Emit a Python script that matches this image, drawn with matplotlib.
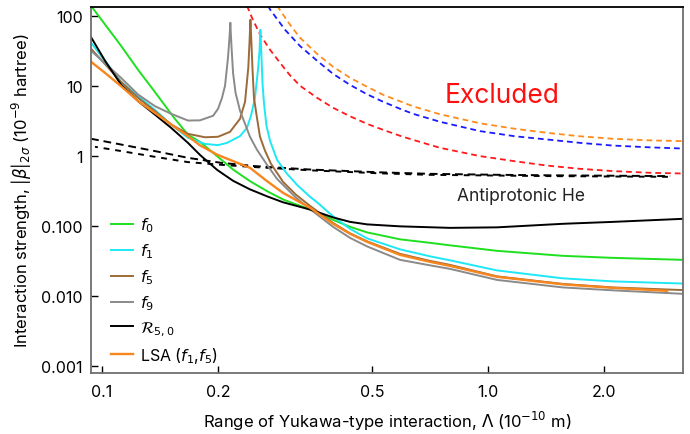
import matplotlib
matplotlib.use('Agg')
import matplotlib.pyplot as plt

plt.rcParams['font.family'] = ['Inter', 'DejaVu Sans']
plt.rcParams['mathtext.fontset'] = 'dejavusans'

# values (Lambda in 1e-10 m, |beta| in 1e-9 hartree)
f0_x = [0.0937, 0.112, 0.124, 0.137, 0.1537, 0.167, 0.1794, 0.1986, 0.2185, 0.2417, 0.2676,
        0.2944, 0.3458, 0.3967, 0.439, 0.4859, 0.5916, 0.7075, 0.797, 1.055, 1.564, 2.108, 3.2]
f0_y = [138, 37.3, 16.9, 8.2, 3.49, 2.0, 1.585, 0.99, 0.637, 0.435, 0.313,
        0.238, 0.171, 0.122, 0.0968, 0.0807, 0.0642, 0.0572, 0.0527, 0.044, 0.0373, 0.0349, 0.0327]

f1_x = [0.0937, 0.112, 0.124, 0.137, 0.151, 0.167, 0.1848, 0.1998, 0.2108, 0.2278, 0.2374,
        0.2432, 0.2490, 0.2535, 0.2559, 0.2572, 0.2588, 0.2604, 0.2627, 0.2667, 0.2724,
        0.2840, 0.3015, 0.3200, 0.3458, 0.3606, 0.3967, 0.439, 0.4859, 0.5916, 0.7075,
        0.797, 1.055, 1.564, 2.108, 3.2]
f1_y = [41.1, 11.4, 7.13, 4.54, 2.80, 1.81, 1.48, 1.42, 1.53, 1.91, 2.51,
        3.73, 6.74, 16.9, 31.0, 63.0, 27.0, 11.0, 5.72, 2.68, 1.64,
        0.877, 0.553, 0.385, 0.26, 0.217, 0.137, 0.0906, 0.0663, 0.0462, 0.0367,
        0.0322, 0.0231, 0.0178, 0.0161, 0.0150]

f5_x = [0.0937, 0.112, 0.124, 0.137, 0.151, 0.167, 0.1848, 0.1998, 0.2146, 0.2278, 0.2347,
        0.2393, 0.2410, 0.2424, 0.2438, 0.2453, 0.2475, 0.2520, 0.2566, 0.2644, 0.2740,
        0.2944, 0.3183, 0.3458, 0.3967, 0.439, 0.4859, 0.5916, 0.7075, 0.797, 1.055,
        1.564, 2.108, 3.2]
f5_y = [33.8, 11.4, 6.74, 4.35, 2.80, 2.06, 1.84, 1.87, 2.20, 3.38, 5.91,
        18.1, 41.1, 87.7, 41.1, 18.1, 6.74, 3.49, 1.87, 1.18, 0.768,
        0.425, 0.277, 0.193, 0.110, 0.0781, 0.0601, 0.0398, 0.0316, 0.0277, 0.019,
        0.0148, 0.0132, 0.0121]

f9_x = [0.0937, 0.112, 0.124, 0.137, 0.151, 0.167, 0.1794, 0.1940, 0.1998, 0.2046, 0.2083,
        0.2120, 0.2139, 0.2150, 0.2159, 0.2166, 0.2185, 0.2218, 0.2278, 0.2347, 0.2417,
        0.2520, 0.2676, 0.2840, 0.2944, 0.3183, 0.3398, 0.3967, 0.439, 0.4859, 0.5916,
        0.7075, 0.797, 1.055, 1.564, 2.108, 3.2]
f9_y = [31.6, 13.0, 7.51, 5.13, 3.98, 3.19, 3.21, 3.73, 4.69, 6.74, 10.0,
        25.1, 48.5, 79.4, 48.5, 34.9, 15.3, 7.94, 4.39, 2.86, 1.87,
        1.22, 0.744, 0.469, 0.385, 0.251, 0.187, 0.0968, 0.0674, 0.0509, 0.0327,
        0.0273, 0.0243, 0.0169, 0.0132, 0.0120, 0.0107]

r50_x = [0.0937, 0.1018, 0.112, 0.124, 0.137, 0.151, 0.167, 0.1794, 0.1986, 0.2185, 0.2417,
         0.2676, 0.2944, 0.3458, 0.3967, 0.439, 0.4859, 0.5916, 0.797, 1.055, 1.564, 2.108, 3.2]
r50_y = [49.3, 22.8, 10.4, 6.04, 3.89, 2.51, 1.53, 1.03, 0.631, 0.44, 0.332,
         0.264, 0.217, 0.171, 0.132, 0.114, 0.105, 0.0984, 0.0936, 0.0952, 0.107, 0.114, 0.126]

lsa_x = [0.0937, 0.1018, 0.112, 0.124, 0.137, 0.151, 0.167, 0.1794, 0.1986, 0.2185, 0.2417,
         0.2676, 0.2944, 0.3458, 0.3967, 0.439, 0.4859, 0.5916, 0.7075, 0.797, 1.055, 1.564,
         2.108, 2.909]
lsa_y = [22.0, 15.3, 9.9, 6.04, 4.11, 2.80, 1.91, 1.41, 1.04, 0.840, 0.674,
         0.435, 0.296, 0.181, 0.107, 0.0771, 0.0591, 0.0385, 0.0306, 0.0268, 0.0187, 0.0146,
         0.0130, 0.0118]

# antiprotonic He bounds (two overlapping dashed curves)
pbar1_x = [0.0937, 0.112, 0.137, 0.167, 0.2034, 0.249, 0.3458, 0.5251, 0.7075, 1.074, 1.447, 2.962]
pbar1_y = [1.75, 1.45, 1.17, 0.936, 0.794, 0.713, 0.637, 0.581, 0.553, 0.535, 0.527, 0.513]
pbar2_x = [0.0959, 0.112, 0.137, 0.167, 0.2034, 0.249, 0.3458, 0.5251, 0.7075, 1.447, 2.962]
pbar2_y = [1.345, 1.17, 0.968, 0.813, 0.744, 0.690, 0.621, 0.562, 0.535, 0.513, 0.501]

# previous exclusion limits
red_x = [0.2374, 0.2446, 0.2566, 0.2724, 0.2891, 0.3069, 0.3258, 0.3606, 0.3967, 0.439,
         0.4859, 0.5346, 0.5916, 0.6391, 0.7509, 0.9535, 1.175, 1.422, 1.731, 2.108, 2.629, 3.2]
red_y = [139, 93.6, 54.1, 32.7, 21.3, 14.1, 10.0, 6.74, 4.85, 3.67,
         2.86, 2.35, 1.93, 1.69, 1.30, 0.99, 0.835, 0.725, 0.652, 0.605, 0.572, 0.559]
blue_x = [0.2692, 0.2724, 0.2979, 0.3258, 0.3606, 0.3967, 0.439, 0.4859, 0.5346, 0.5916,
          0.6391, 0.7509, 0.9535, 1.175, 1.422, 1.731, 2.108, 2.629, 3.2]
blue_y = [139, 123, 63.1, 36.9, 22.8, 14.8, 10.3, 7.56, 5.91, 4.69,
          3.98, 3.06, 2.25, 1.90, 1.71, 1.53, 1.40, 1.32, 1.27]
orng_x = [0.2840, 0.3069, 0.3258, 0.3606, 0.3967, 0.439, 0.4859, 0.5346, 0.5916, 0.6391,
          0.7509, 0.9535, 1.175, 1.422, 1.731, 2.108, 2.629, 3.2]
orng_y = [139, 74.4, 48.5, 28.6, 18.7, 13.0, 9.68, 7.44, 6.0, 5.09,
          3.92, 2.91, 2.43, 2.13, 1.90, 1.75, 1.66, 1.62]

yticks = [100, 10, 1, 0.1, 0.01, 0.001]
ytick_labels = ['100', '10', '1', '0.100', '0.010', '0.001']
xticks = [0.1, 0.2, 0.5, 1.0, 2.0]
xtick_labels = ['0.1', '0.2', '0.5', '1.0', '2.0']

fig = plt.figure(figsize=(6.9, 4.35), dpi=100)
ax = fig.add_axes([0.132, 0.140, 0.858, 0.842])

dash = (0, (3.2, 2.2))
ax.plot(red_x, red_y, color='#ff1a1a', lw=1.3, linestyle=dash)
ax.plot(blue_x, blue_y, color='#1a1aff', lw=1.3, linestyle=dash)
ax.plot(orng_x, orng_y, color='#ff8c1a', lw=1.3, linestyle=dash)

ax.plot(pbar1_x, pbar1_y, color='black', lw=1.4, linestyle=(0, (4, 2.5)))
ax.plot(pbar2_x, pbar2_y, color='black', lw=1.4, linestyle=(1.5, (3, 3)))

ax.plot(f0_x, f0_y, color='#1fe01f', lw=1.4, label='$f_0$')
ax.plot(f1_x, f1_y, color='#1ee8f5', lw=1.4, label='$f_1$')
ax.plot(f5_x, f5_y, color='#9c6a38', lw=1.4, label='$f_5$')
ax.plot(f9_x, f9_y, color='#8a8a8a', lw=1.4, label='$f_9$')
ax.plot(r50_x, r50_y, color='black', lw=1.4, label=r'$\mathcal{R}_{5,0}$')
ax.plot(lsa_x, lsa_y, color='#f7861f', lw=1.7, label='LSA ($f_1$,$f_5$)')

ax.set_xscale('log')
ax.set_yscale('log')
ax.set_xlim(0.0937, 3.2)
ax.set_ylim(0.00079, 134)
ax.set_xticks(xticks)
ax.set_xticklabels(xtick_labels)
ax.set_yticks(yticks)
ax.set_yticklabels(ytick_labels)
ax.minorticks_off()
ax.tick_params(direction='in', length=5, width=1, labelsize=11.5)
ax.tick_params(axis='x', pad=8)
ax.tick_params(axis='y', pad=6)

for s in ['left', 'bottom', 'right']:
    ax.spines[s].set_color('#6e6e6e')
    ax.spines[s].set_linewidth(1.3)
ax.spines['top'].set_linewidth(1.3)

ax.set_xlabel(r'Range of Yukawa-type interaction, $\Lambda$ (10$^{-10}$ m)', fontsize=12, labelpad=7)
ax.set_ylabel(r'Interaction strength, |$\beta$|$_{2\sigma}$ (10$^{-9}$ hartree)', fontsize=12, labelpad=5)

ax.text(1.087, 7.44, 'Excluded', color='#ff1010', fontsize=19, ha='center', va='center')
ax.text(1.218, 0.268, 'Antiprotonic He', color='#222222', fontsize=12.5, ha='center', va='center')

ax.legend(loc='lower left', bbox_to_anchor=(0.012, -0.012), frameon=False, fontsize=11.5,
          handlelength=1.35, handletextpad=0.45, labelspacing=0.45, borderaxespad=0.4)

fig.savefig('out.png', dpi=100)
